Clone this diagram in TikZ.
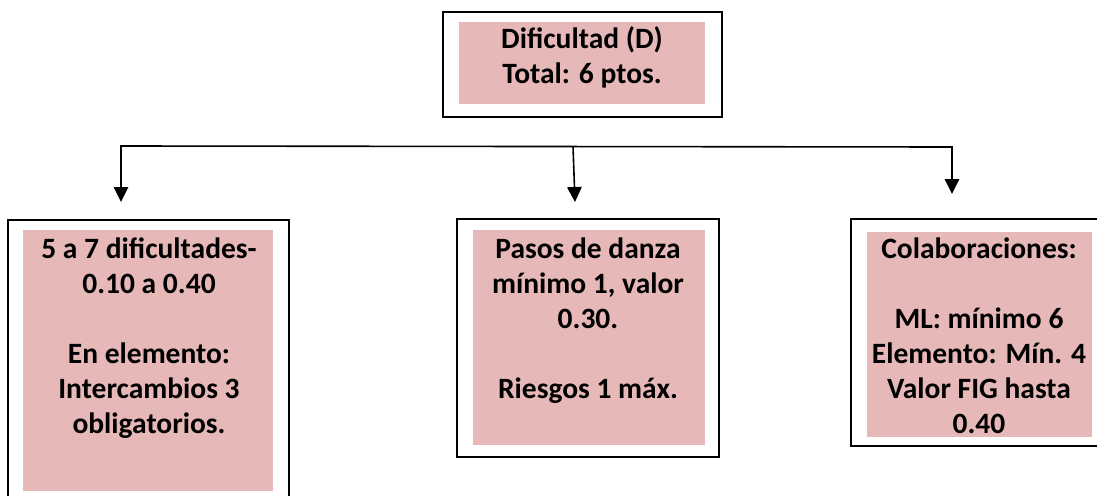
\documentclass[tikz,border=0pt]{standalone}
\usepackage{fontspec}
\setmainfont{Carlito}
\usetikzlibrary{arrows.meta}
\definecolor{boxpink}{HTML}{E6B8B7}
\begin{document}
\begin{tikzpicture}[x=1pt,y=-1pt,
  outerbox/.style={draw=black,line width=1.6pt,fill=white,inner sep=0pt,anchor=north west},
  fillbox/.style={fill=boxpink,inner sep=0pt,anchor=north west},
  label/.style={inner sep=0pt,anchor=base,align=center,font=\bfseries\fontsize{29.5}{35}\selectfont},
  conn/.style={line width=1.6pt,draw=black},
  arr/.style={conn,-{Triangle[length=15pt,width=14.5pt]}}
]
\useasboundingbox (0,0) rectangle (1097,495);
\fill[white] (0,0) rectangle (1097,495);
\clip (0,0) rectangle (1097,495);
% outer boxes
\node[outerbox,minimum width=279pt,minimum height=105pt] (top) at (442,11) {};
\node[outerbox,minimum width=281pt,minimum height=300pt] (left) at (7,219) {};
\node[outerbox,minimum width=262pt,minimum height=238pt] (mid) at (456,218) {};
\node[outerbox,minimum width=270pt,minimum height=227pt] (right) at (850,218) {};
% inner fills
\node[fillbox,minimum width=246pt,minimum height=82pt] (topfill) at (459,22) {};
\node[fillbox,minimum width=250pt,minimum height=261pt] (leftfill) at (23,230) {};
\node[fillbox,minimum width=232pt,minimum height=215pt] (midfill) at (473,230) {};
\node[fillbox,minimum width=225pt,minimum height=205pt] (rightfill) at (867,232) {};
% texts (anchor base = baseline of the last line)
\node[label] (toptext) at (582,83) {Dificultad (D)\\Total: 6 ptos.};
\node[label] (lefttext) at (149,433) {5 a 7 dificultades-\\0.10 a 0.40\\[35pt]En elemento:\\Intercambios 3\\obligatorios.};
\node[label] (midtext) at (588,398) {Pasos de danza\\mínimo 1, valor\\0.30.\\[35pt]Riesgos 1 máx.};
\node[label] (righttext) at (979,433) {Colaboraciones:\\[35pt]ML: mínimo 6\\Elemento: Mín. 4\\Valor FIG hasta\\0.40};
% connectors
\coordinate (busL) at (121,146);
\coordinate (busM) at (573,146.5);
\coordinate (busR) at (952,147);
\coordinate (tipL) at (121,202);
\coordinate (tipM) at (575,202);
\coordinate (tipR) at (952,194);
\draw[arr,line join=miter] (busR) -- (busL) -- (tipL);
\draw[arr] (busM) -- (tipM);
\draw[arr,line cap=rect] (busR) -- (tipR);
\end{tikzpicture}
\end{document}
